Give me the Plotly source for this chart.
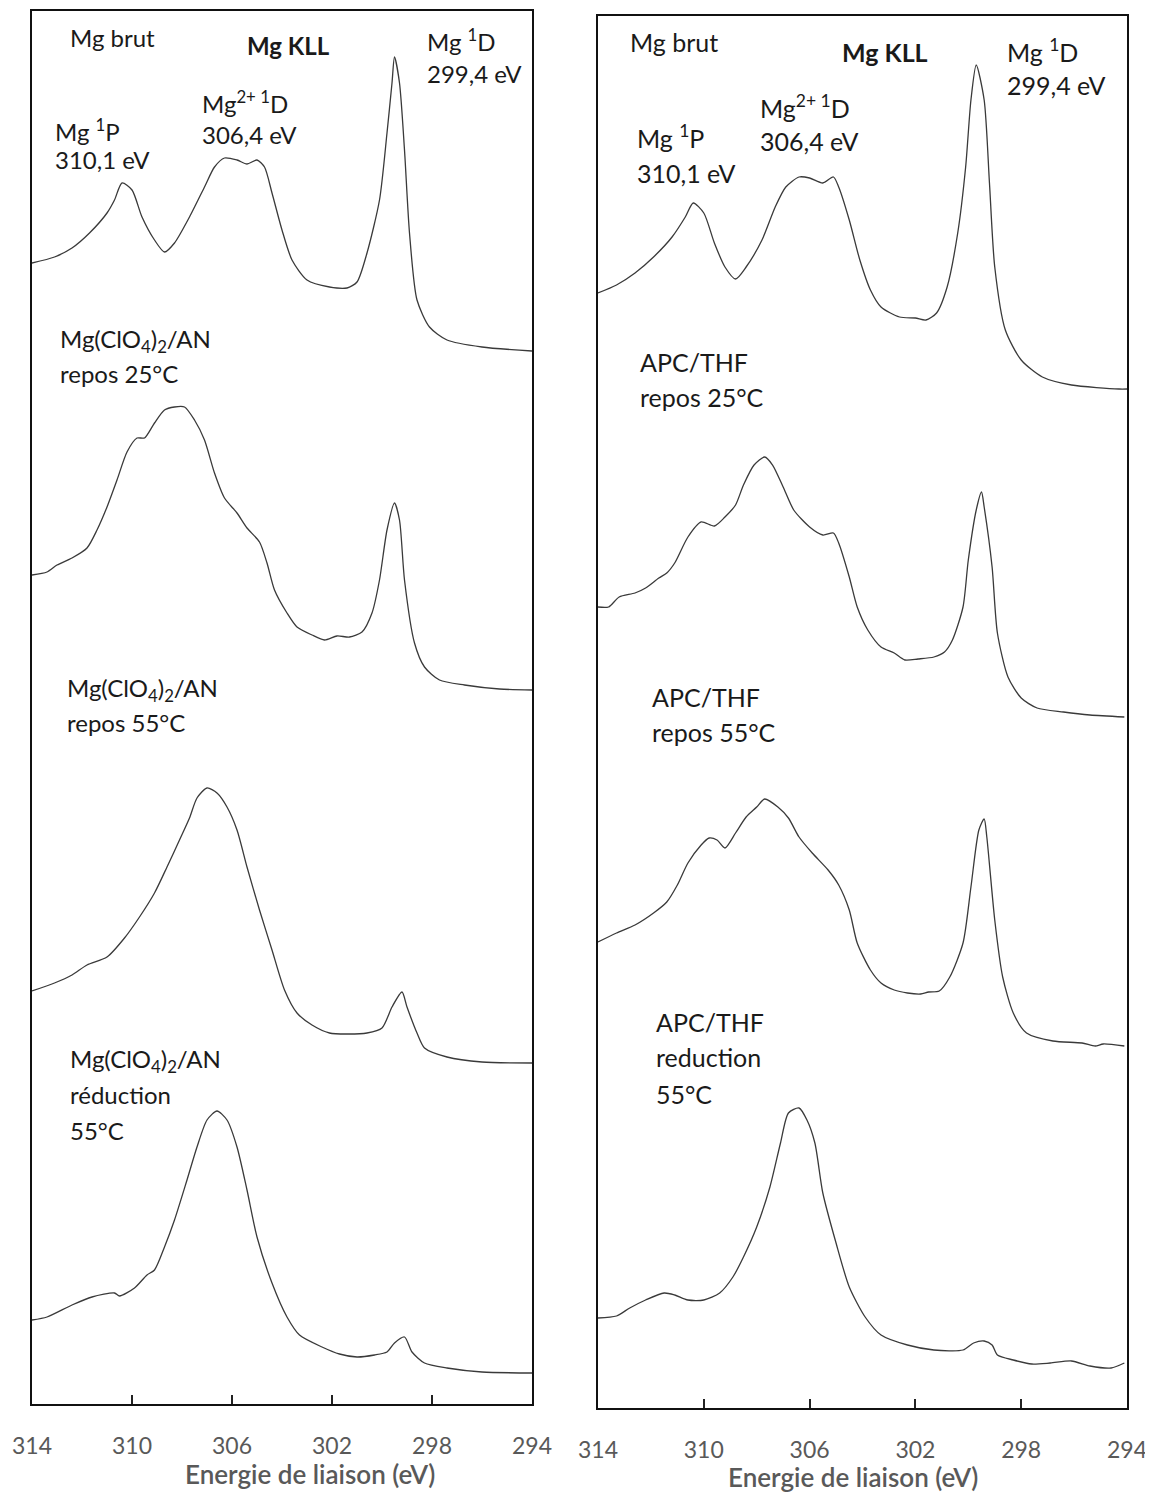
import plotly.graph_objects as go

W, H = 1153, 1496
OX, OY = 8, 8   # page body margin of the exported html

# ---------------- Left panel : Mg(ClO4)2/AN ----------------
L_brut_E = [314.0, 313.1, 312.4, 311.7, 311.0, 310.7, 310.4, 310.0, 309.6, 309.1, 308.7, 308.3, 307.7, 307.1,
            306.7, 306.3, 305.8, 305.4, 305.0, 304.7, 304.4, 304.0, 303.6, 303.0, 302.1, 301.4, 301.0, 300.6,
            300.1, 299.8, 299.6, 299.5, 299.3, 299.1, 298.9, 298.6, 298.1, 297.4, 296.0, 294.0]
L_brut_I = [1142, 1148, 1157, 1172, 1192, 1205, 1222, 1215, 1188, 1165, 1153, 1162, 1188, 1218,
            1238, 1247, 1245, 1241, 1245, 1238, 1212, 1175, 1145, 1125, 1118, 1117, 1123, 1152,
            1205, 1272, 1322, 1348, 1322, 1255, 1172, 1105, 1078, 1065, 1058, 1054]

L_r25_E = [314.0, 313.4, 313.0, 312.4, 311.8, 311.4, 311.0, 310.6, 310.2, 309.8, 309.5, 309.1, 308.7, 308.3,
           307.9, 307.5, 307.1, 306.7, 306.3, 305.8, 305.4, 304.9, 304.6, 304.3, 303.8, 303.4, 302.8, 302.3,
           301.8, 301.3, 300.8, 300.4, 300.1, 299.8, 299.5, 299.3, 299.1, 298.7, 298.3, 297.7, 296.7, 295.3, 294.0]
L_r25_I = [830, 833, 840, 847, 857, 875, 898, 925, 953, 967, 967, 982, 995, 998,
           998, 985, 965, 932, 907, 892, 877, 863, 842, 815, 792, 778, 770, 765,
           769, 768, 773, 792, 825, 875, 902, 885, 825, 762, 738, 725, 720, 716, 715]

L_r55_E = [314.0, 313.1, 312.4, 311.8, 311.0, 310.3, 309.7, 309.1, 308.6, 308.1, 307.7, 307.4, 307.0, 306.6,
           306.2, 305.8, 305.4, 304.9, 304.4, 303.9, 303.4, 302.8, 302.1, 301.4, 300.6, 300.0, 299.6, 299.2,
           299.0, 298.6, 298.3, 297.4, 296.0, 294.0]
L_r55_I = [414, 422, 430, 440, 448, 467, 488, 512, 538, 565, 587, 607, 617, 612,
           598, 575, 538, 495, 455, 415, 392, 380, 372, 371, 372, 377, 398, 413,
           398, 372, 357, 348, 343, 342]

L_red_E = [314.0, 313.4, 312.4, 311.6, 310.7, 310.5, 309.9, 309.4, 309.1, 308.7, 308.3, 307.8, 307.4, 307.0,
           306.6, 306.2, 305.8, 305.4, 305.0, 304.4, 303.8, 303.3, 302.4, 301.7, 301.0, 300.3, 299.8, 299.5,
           299.1, 298.8, 298.3, 297.4, 296.0, 294.0]
L_red_I = [85, 88, 100, 108, 112, 109, 117, 130, 135, 158, 185, 225, 258, 285,
           294, 285, 258, 215, 168, 122, 88, 70, 58, 51, 48, 50, 53, 62,
           68, 53, 42, 37, 33, 32]

# ---------------- Right panel : APC/THF ----------------
R_brut_E = [314.0, 313.3, 312.6, 311.9, 311.2, 310.7, 310.4, 310.0, 309.6, 309.2, 308.8, 308.4, 307.8, 307.3,
            306.9, 306.4, 306.0, 305.5, 305.1, 304.9, 304.5, 304.1, 303.7, 303.3, 302.6, 302.0, 301.6, 301.2,
            300.8, 300.4, 300.1, 299.9, 299.7, 299.4, 299.2, 299.0, 298.6, 298.0, 297.2, 296.1, 294.3, 294.0]
R_brut_I = [1120, 1128, 1140, 1156, 1176, 1196, 1210, 1200, 1170, 1146, 1134, 1146, 1173, 1206,
            1226, 1236, 1235, 1230, 1236, 1226, 1193, 1153, 1123, 1106, 1096, 1095, 1093, 1100,
            1126, 1180, 1246, 1313, 1348, 1313, 1230, 1146, 1083, 1053, 1036, 1028, 1024, 1024]

R_r25_E = [314.0, 313.6, 313.2, 312.6, 312.2, 311.7, 311.4, 311.1, 310.6, 310.1, 309.6, 309.2, 308.8, 308.5,
           308.1, 307.7, 307.4, 307.0, 306.6, 306.0, 305.5, 305.1, 304.9, 304.5, 304.2, 303.8, 303.3, 302.8,
           302.4, 301.9, 301.3, 300.9, 300.6, 300.2, 300.0, 299.7, 299.5, 299.4, 299.1, 298.9, 298.5, 298.0,
           297.4, 296.4, 295.4, 294.1]
R_r25_I = [806, 806, 816, 820, 825, 835, 840, 850, 876, 891, 887, 896, 908, 928,
           948, 956, 948, 926, 903, 886, 878, 880, 870, 836, 806, 783, 766, 760,
           753, 754, 756, 761, 773, 806, 853, 903, 921, 906, 846, 780, 736, 715,
           705, 701, 698, 696]

R_r55_E = [314.0, 313.3, 312.6, 311.9, 311.4, 311.0, 310.6, 310.1, 309.8, 309.5, 309.2, 308.8, 308.4, 308.0,
           307.7, 307.2, 306.8, 306.4, 305.9, 305.3, 304.9, 304.5, 304.2, 303.7, 303.3, 302.8, 302.3, 301.8,
           301.5, 301.1, 300.7, 300.2, 299.9, 299.6, 299.4, 299.3, 299.0, 298.7, 298.3, 297.8, 296.8, 295.7,
           295.2, 294.9, 294.1]
R_r55_I = [471, 480, 488, 500, 511, 528, 550, 568, 575, 573, 565, 580, 596, 606,
           614, 606, 595, 576, 560, 543, 528, 503, 470, 443, 430, 423, 420, 419,
           421, 422, 436, 470, 526, 583, 594, 576, 493, 436, 400, 380, 372, 370,
           367, 369, 367]

R_red_E = [314.0, 313.3, 312.8, 312.2, 311.5, 311.1, 310.6, 310.0, 309.4, 308.9, 308.5, 308.0, 307.5, 307.1,
           306.8, 306.4, 306.1, 305.8, 305.5, 305.0, 304.5, 303.9, 303.3, 302.3, 301.3, 300.2, 299.8, 299.4,
           299.1, 298.9, 298.3, 297.6, 296.9, 296.1, 295.4, 294.6, 294.1]
R_red_I = [95, 97, 105, 113, 120, 118, 113, 113, 120, 136, 156, 186, 226, 270,
           300, 305, 293, 270, 220, 170, 126, 96, 78, 68, 63, 63, 70, 72,
           68, 58, 53, 49, 50, 52, 47, 45, 50]

x_ticks = [314, 310, 306, 302, 298, 294]
x_title = "Energie de liaison (eV)"

left_labels = ["Mg brut", "<b>Mg KLL</b>", "Mg <sup>1</sup>D", "299,4 eV", "Mg<sup>2+ 1</sup>D", "306,4 eV",
               "Mg <sup>1</sup>P", "310,1 eV",
               "Mg(ClO<sub>4</sub>)<sub>2</sub>/AN", "repos 25°C",
               "Mg(ClO<sub>4</sub>)<sub>2</sub>/AN", "repos 55°C",
               "Mg(ClO<sub>4</sub>)<sub>2</sub>/AN", "réduction", "55°C"]
right_labels = ["Mg brut", "<b>Mg KLL</b>", "Mg <sup>1</sup>D", "299,4 eV", "Mg<sup>2+ 1</sup>D", "306,4 eV",
                "Mg <sup>1</sup>P", "310,1 eV",
                "APC/THF", "repos 25°C",
                "APC/THF", "repos 55°C",
                "APC/THF", "reduction", "55°C"]

# label positions (pixels: left edge, vertical centre)
left_pos = [(68, 38), (245, 45), (425, 40), (425, 73), (200, 102), (200, 134), (53, 130), (53, 160),
            (58, 340), (58, 373), (65, 690), (65, 722), (68, 1060), (68, 1094), (68, 1130)]
right_pos = [(628, 42), (840, 52), (1005, 50), (1005, 85), (758, 106), (758, 141), (635, 137), (635, 173),
             (638, 362), (638, 397), (650, 697), (650, 732), (654, 1022), (654, 1057), (654, 1094)]

FONT = "Lato, 'Open Sans', sans-serif"
LINE = dict(color="#3a3a3a", width=1.3, shape="spline", smoothing=0.7)


def px_x(p):
    return (p - OX) / W


def px_y(p):
    return 1 - (p - OY) / H


fig = go.Figure()
for E, I in [(L_brut_E, L_brut_I), (L_r25_E, L_r25_I), (L_r55_E, L_r55_I), (L_red_E, L_red_I)]:
    fig.add_trace(go.Scatter(x=E, y=I, mode="lines", line=LINE, xaxis="x", yaxis="y",
                             showlegend=False, hoverinfo="skip"))
for E, I in [(R_brut_E, R_brut_I), (R_r25_E, R_r25_I), (R_r55_E, R_r55_I), (R_red_E, R_red_I)]:
    fig.add_trace(go.Scatter(x=E, y=I, mode="lines", line=LINE, xaxis="x2", yaxis="y2",
                             showlegend=False, hoverinfo="skip"))

xcommon = dict(range=[314, 294], tickvals=x_ticks, ticktext=[str(t) for t in x_ticks],
               ticks="inside", ticklen=9, tickwidth=1.5, tickcolor="#222",
               showline=True, linecolor="#111", linewidth=2, mirror=True, automargin=False,
               showgrid=False, zeroline=False, ticklabelstandoff=20,
               tickfont=dict(family=FONT, size=23, color="#595959"))
ycommon = dict(showline=True, linecolor="#111", linewidth=2, mirror=True, showgrid=False,
               automargin=False, zeroline=False, showticklabels=False, ticks="")

annotations = []
for i, (txt, (px, py)) in enumerate(list(zip(left_labels, left_pos)) + list(zip(right_labels, right_pos))):
    size = 24 if i < len(left_labels) else 25
    annotations.append(dict(text=txt, x=px_x(px), y=px_y(py), xref="paper", yref="paper",
                            xanchor="left", yanchor="middle", showarrow=False,
                            font=dict(family=FONT, size=size, color="#1a1a1a")))
for cx, cy in [(310, 1474), (853, 1477)]:
    annotations.append(dict(text=x_title, x=px_x(cx), y=px_y(cy), xref="paper", yref="paper",
                            xanchor="center", yanchor="middle", showarrow=False,
                            font=dict(family=FONT, size=26, color="#595959", weight=600)))

fig.update_layout(
    width=W, height=H, autosize=False,
    margin=dict(l=0, r=0, t=0, b=0, autoexpand=False),
    paper_bgcolor="white", plot_bgcolor="white",
    xaxis=dict(domain=[px_x(32), px_x(532)], anchor="y", **xcommon),
    yaxis=dict(domain=[px_y(1404), px_y(11)], range=[1, 1394], anchor="x", **ycommon),
    xaxis2=dict(domain=[px_x(598), px_x(1127)], anchor="y2", **xcommon),
    yaxis2=dict(domain=[px_y(1408), px_y(16)], range=[5, 1397], anchor="x2", **ycommon),
    annotations=annotations,
)

fig.write_html("out.html")
